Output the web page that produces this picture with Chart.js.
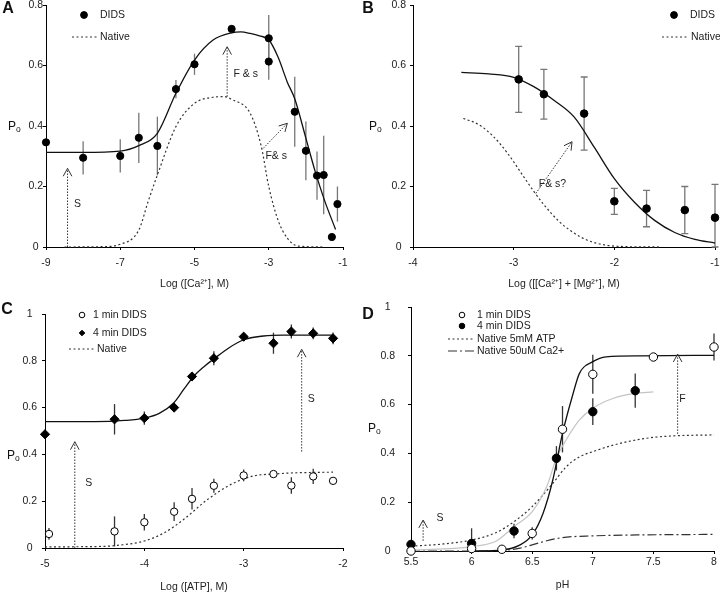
<!DOCTYPE html>
<html>
<head>
<meta charset="utf-8">
<script src="https://cdn.jsdelivr.net/npm/chart.js@4.4.0/dist/chart.umd.min.js"></script>
<style>
  body { margin: 0; background: #fff; }
  #wrap { position: relative; width: 720px; height: 593px; overflow: hidden; }
  canvas { position: absolute; }
</style>
</head>
<body>
<div id="wrap">
  <canvas id="chartA" width="360" height="296" style="left:0;top:0"></canvas>
  <canvas id="chartB" width="360" height="296" style="left:360px;top:0"></canvas>
  <canvas id="chartC" width="360" height="295" style="left:0;top:298px"></canvas>
  <canvas id="chartD" width="360" height="295" style="left:360px;top:298px"></canvas>
</div>
<script>
// ---- panel A: Ca2+ ----
const aXTicks = [-9, -7, -5, -3, -1];
const aYTicks = [0, 0.2, 0.4, 0.6, 0.8];
const aDidsX = [-9, -8, -7, -6.5, -6, -5.5, -5, -4, -3, -3, -2.3, -2, -1.7, -1.52, -1.3, -1.15];
const aDidsY = [0.346, 0.295, 0.301, 0.361, 0.334, 0.522, 0.604, 0.721, 0.690, 0.613, 0.447, 0.318, 0.236, 0.238, 0.033, 0.142];
const aDidsErr = [0, 0.055, 0.055, 0.083, 0.097, 0.03, 0.035, 0, 0.077, 0.06, 0.116, 0.097, 0.08, 0.13, 0, 0.058];
const aFitX = [-9, -8, -7, -6.5, -6, -5.5, -5, -4.5, -4, -3.75, -3.5, -3.25, -3, -2.75, -2.5, -2.3, -2, -1.75, -1.5, -1.2];
const aFitY = [0.313, 0.313, 0.317, 0.335, 0.376, 0.508, 0.618, 0.684, 0.708, 0.711, 0.706, 0.698, 0.685, 0.628, 0.545, 0.49, 0.36, 0.25, 0.155, 0.058];
const aNatX = [-8.5, -7.5, -7, -6.5, -6.25, -6, -5.5, -5, -4.5, -4.2, -4, -3.5, -3.2, -3, -2.75, -2.5, -2.2, -1.5];
const aNatY = [0, 0.001, 0.009, 0.056, 0.15, 0.238, 0.398, 0.475, 0.495, 0.497, 0.488, 0.442, 0.332, 0.2, 0.089, 0.029, 0.003, 0];

// ---- panel B: Ca2+ + Mg2+ ----
const bXTicks = [-4, -3, -2, -1];
const bYTicks = [0, 0.2, 0.4, 0.6, 0.8];
const bDidsX = [-2.95, -2.7, -2.3, -2.0, -1.68, -1.3, -1.0];
const bDidsY = [0.554, 0.505, 0.441, 0.151, 0.127, 0.122, 0.097];
const bDidsErr = [0.109, 0.082, 0.121, 0.043, 0.06, 0.078, 0.11];
const bFitX = [-3.52, -3.25, -3, -2.8, -2.6, -2.4, -2.2, -2.0, -1.8, -1.6, -1.4, -1.2, -1.0];
const bFitY = [0.577, 0.572, 0.561, 0.53, 0.485, 0.43, 0.33, 0.226, 0.148, 0.088, 0.048, 0.025, 0.013];
const bNatX = [-3.5, -3.35, -3.2, -3.05, -2.9, -2.8, -2.7, -2.55, -2.4, -2.25, -2.1, -1.95, -1.55];
const bNatY = [0.425, 0.405, 0.365, 0.305, 0.232, 0.184, 0.14, 0.085, 0.046, 0.02, 0.007, 0.002, 0];

// ---- panel C: ATP ----
const cXTicks = [-5, -4, -3, -2];
const cYTicks = [0, 0.2, 0.4, 0.6, 0.8, 1];
const c1X = [-4.96, -4.3, -4, -3.7, -3.52, -3.3, -3, -2.7, -2.52, -2.3, -2.1];
const c1Y = [0.06, 0.071, 0.11, 0.155, 0.21, 0.266, 0.31, 0.316, 0.267, 0.306, 0.287];
const c1Err = [0.025, 0.064, 0.035, 0.04, 0.046, 0.03, 0.025, 0, 0.035, 0.033, 0];
const c4X = [-5, -4.3, -4, -3.7, -3.52, -3.3, -3, -2.7, -2.52, -2.3, -2.1];
const c4Y = [0.486, 0.55, 0.555, 0.6, 0.733, 0.811, 0.903, 0.875, 0.925, 0.917, 0.896];
const c4Err = [0, 0.065, 0.028, 0, 0, 0.03, 0.015, 0.045, 0.03, 0.025, 0.025];
const cFitX = [-5, -4.5, -4.2, -4, -3.85, -3.7, -3.6, -3.5, -3.4, -3.3, -3.15, -3, -2.8, -2.6, -2.1];
const cFitY = [0.54, 0.54, 0.545, 0.555, 0.575, 0.622, 0.68, 0.735, 0.775, 0.808, 0.855, 0.89, 0.906, 0.91, 0.91];
const cNatX = [-5, -4.5, -4.3, -4, -3.8, -3.61, -3.37, -3.14, -2.9, -2.7, -2.5, -2.3, -2.1];
const cNatY = [0.005, 0.006, 0.01, 0.03, 0.065, 0.12, 0.205, 0.269, 0.308, 0.316, 0.321, 0.323, 0.324];

// ---- panel D: pH ----
const dXTicks = [5.5, 6, 6.5, 7, 7.5, 8];
const dYTicks = [0, 0.2, 0.4, 0.6, 0.8, 1];
const d1X = [5.5, 6.0, 6.25, 6.5, 6.75, 7.0, 7.5, 8.0];
const d1Y = [0.0, 0.01, 0.007, 0.072, 0.499, 0.724, 0.795, 0.836];
const d1Err = [0, 0, 0, 0.025, 0.095, 0.08, 0, 0.055];
const d4X = [5.5, 6.0, 6.35, 6.7, 7.0, 7.35];
const d4Y = [0.027, 0.031, 0.082, 0.38, 0.571, 0.657];
const d4Err = [0, 0.062, 0.03, 0.05, 0.055, 0.07];
const dFitX = [6.0, 6.25, 6.4, 6.5, 6.59, 6.67, 6.75, 6.83, 6.89, 7.0, 7.11, 7.4, 8.0];
const dFitY = [0, 0.004, 0.025, 0.066, 0.155, 0.291, 0.482, 0.632, 0.728, 0.776, 0.796, 0.80, 0.802];
const dGrayX = [5.5, 6.0, 6.2, 6.35, 6.5, 6.62, 6.7, 6.78, 6.89, 7.0, 7.17, 7.35, 7.5];
const dGrayY = [0.003, 0.018, 0.04, 0.1, 0.161, 0.264, 0.38, 0.455, 0.537, 0.585, 0.626, 0.646, 0.652];
const dNat5X = [5.5, 5.75, 6.0, 6.2, 6.35, 6.5, 6.67, 6.78, 6.89, 7.0, 7.17, 7.39, 7.6, 8.0];
const dNat5Y = [0.02, 0.028, 0.045, 0.075, 0.12, 0.182, 0.277, 0.345, 0.386, 0.407, 0.434, 0.458, 0.47, 0.476];
const dNat50X = [5.5, 6.0, 6.25, 6.4, 6.5, 6.62, 6.75, 7.0, 7.4, 8.0];
const dNat50Y = [0, 0, 0.002, 0.012, 0.025, 0.042, 0.055, 0.062, 0.066, 0.068];

const FONT = '"Liberation Sans", Arial, sans-serif';
Chart.defaults.font.family = FONT;
Chart.defaults.font.size = 10.5;
Chart.defaults.color = '#222';

function pts(xs, ys) {
    return xs.map((x, i) => ({ x: x, y: ys[i] }));
}

function dots(label, xs, ys, errs, style) {
    return Object.assign({
        label: label,
        data: pts(xs, ys),
        errors: errs,
        showLine: false,
        pointStyle: 'circle',
        pointRadius: 4,
        backgroundColor: '#000',
        borderColor: '#000',
        borderWidth: 1,
        clip: false
    }, style || {});
}

function curve(label, xs, ys, style) {
    return Object.assign({
        label: label,
        data: pts(xs, ys),
        showLine: true,
        pointRadius: 0,
        borderColor: '#111',
        borderWidth: 1.3,
        cubicInterpolationMode: 'monotone',
        fill: false,
        clip: false
    }, style || {});
}

const DOTTED = { borderColor: '#333', borderWidth: 1.2, borderDash: [2, 2.5] };

// per-canvas annotation setup (legend, arrows, labels)
const panels = {};

function marker(ctx, ds, x, y, r) {
    ctx.save();
    ctx.fillStyle = ds.backgroundColor;
    ctx.strokeStyle = ds.borderColor;
    ctx.lineWidth = ds.borderWidth;
    ctx.beginPath();
    if (ds.pointStyle === 'rectRot') {
        ctx.moveTo(x, y - r); ctx.lineTo(x + r, y); ctx.lineTo(x, y + r); ctx.lineTo(x - r, y); ctx.closePath();
    } else {
        ctx.arc(x, y, r, 0, Math.PI * 2);
    }
    ctx.fill();
    ctx.stroke();
    ctx.restore();
}

function arrow(ctx, x1, y1, x2, y2) {
    ctx.save();
    ctx.strokeStyle = '#333';
    ctx.lineWidth = 1;
    ctx.setLineDash([1.5, 1.5]);
    ctx.beginPath(); ctx.moveTo(x1, y1); ctx.lineTo(x2, y2); ctx.stroke();
    ctx.setLineDash([]);
    const a = Math.atan2(y2 - y1, x2 - x1), L = 9, W = 0.5;
    ctx.beginPath();
    ctx.moveTo(x2 - L * Math.cos(a - W), y2 - L * Math.sin(a - W));
    ctx.lineTo(x2, y2);
    ctx.lineTo(x2 - L * Math.cos(a + W), y2 - L * Math.sin(a + W));
    ctx.stroke();
    ctx.restore();
}

const extrasPlugin = {
    id: 'extras',
    beforeDatasetsDraw(chart) {
        const ex = panels[chart.canvas.id];
        const ctx = chart.ctx, sx = chart.scales.x, sy = chart.scales.y;
        ctx.save();
        ctx.strokeStyle = ex.errColor;
        ctx.lineWidth = 1.3;
        chart.data.datasets.forEach(ds => {
            if (!ds.errors) return;
            ds.data.forEach((p, i) => {
                const e = ds.errors[i];
                if (!e) return;
                const px = sx.getPixelForValue(p.x);
                const top = sy.getPixelForValue(p.y + e);
                const bot = sy.getPixelForValue(Math.max(0, p.y - e));
                ctx.beginPath();
                ctx.moveTo(px, top); ctx.lineTo(px, bot);
                if (ex.cap) {
                    ctx.moveTo(px - ex.cap, top); ctx.lineTo(px + ex.cap, top);
                    ctx.moveTo(px - ex.cap, bot); ctx.lineTo(px + ex.cap, bot);
                }
                ctx.stroke();
            });
        });
        ctx.restore();
    },
    afterDraw(chart) {
        const ex = panels[chart.canvas.id];
        const ctx = chart.ctx, sx = chart.scales.x, sy = chart.scales.y;
        ex.arrows.forEach(a => arrow(ctx,
            sx.getPixelForValue(a[0]), sy.getPixelForValue(a[1]),
            sx.getPixelForValue(a[2]), sy.getPixelForValue(a[3])));
        ctx.save();
        ctx.fillStyle = '#222';
        ctx.font = '10.5px ' + FONT;
        ctx.textAlign = 'center';
        ctx.textBaseline = 'middle';
        ex.notes.forEach(n => ctx.fillText(n[0], sx.getPixelForValue(n[1]), sy.getPixelForValue(n[2])));

        // legend
        ctx.textAlign = 'left';
        ex.legend.forEach(r => {
            const ds = chart.data.datasets[r.i];
            if (r.l1 !== undefined) {
                ctx.save();
                ctx.strokeStyle = ds.borderColor;
                ctx.lineWidth = ds.borderWidth;
                ctx.setLineDash(ds.borderDash || []);
                ctx.beginPath(); ctx.moveTo(r.l1, r.y); ctx.lineTo(r.l2, r.y); ctx.stroke();
                ctx.restore();
            } else {
                marker(ctx, ds, r.mx, r.y, ex.legendR);
            }
            ctx.fillStyle = '#222';
            ctx.fillText(ds.label, r.tx, r.y);
        });

        // panel letter
        ctx.font = 'bold 16px ' + FONT;
        ctx.textAlign = 'center';
        ctx.fillStyle = '#111';
        ctx.fillText(ex.letter[0], ex.letter[1], ex.letter[2]);

        // y title P with subscript o
        ctx.textAlign = 'left';
        ctx.textBaseline = 'alphabetic';
        ctx.font = '12px ' + FONT;
        ctx.fillText('P', ex.po[0], ex.po[1]);
        ctx.font = '8.5px ' + FONT;
        ctx.fillText('o', ex.po[0] + 8, ex.po[1] + 2);
        ctx.restore();
    }
};

function axes(g) {
    return {
        x: {
            type: 'linear', min: g.xMin, max: g.xMax,
            afterBuildTicks: s => { s.ticks = g.xTicks.map(v => ({ value: v })); },
            afterFit: s => { s.height = g.xh; s.paddingLeft = 0; s.paddingRight = 0; },
            ticks: { padding: g.xPad, maxRotation: 0, autoSkip: false, color: '#222', callback: v => String(v) },
            grid: { drawOnChartArea: false, color: '#000', tickLength: 3, lineWidth: 1 },
            border: { color: '#000', width: 1 },
            title: { display: true, text: g.xTitle, color: '#222', padding: { top: 0, bottom: g.titlePad } }
        },
        y: {
            type: 'linear', min: g.yMin, max: g.yMax,
            afterBuildTicks: s => { s.ticks = g.yTicks.map(v => ({ value: v })); },
            afterFit: s => { s.width = g.yw; s.paddingTop = 0; s.paddingBottom = 0; },
            ticks: { padding: g.yPad, crossAlign: 'center', color: '#222', autoSkip: false, callback: v => String(v) },
            grid: { drawOnChartArea: false, color: '#000', tickLength: 3, lineWidth: 1 },
            border: { color: '#000', width: 1 }
        }
    };
}

function makeChart(id, g, datasets) {
    new Chart(document.getElementById(id).getContext('2d'), {
        type: 'scatter',
        data: { datasets: datasets },
        options: {
            responsive: false,
            devicePixelRatio: 1,
            animation: false,
            events: [],
            layout: { padding: { left: 0, top: g.top, right: g.right, bottom: 0 } },
            plugins: { legend: { display: false }, tooltip: { enabled: false } },
            scales: axes(g)
        },
        plugins: [extrasPlugin]
    });
}

// ---- A ----
panels.chartA = {
    errColor: '#777', cap: 0, legendR: 3.4,
    letter: ['A', 8, 9], po: [8, 130],
    legend: [{ i: 0, y: 15, mx: 84, tx: 100 }, { i: 2, y: 37, l1: 72, l2: 98, tx: 100 }],
    arrows: [[-8.42, 0, -8.42, 0.26], [-4.12, 0.497, -4.12, 0.662], [-3.15, 0.326, -2.5, 0.409]],
    notes: [['S', -8.15, 0.142], ['F & s', -3.62, 0.572], ['F& s', -2.8, 0.299]]
};
makeChart('chartA', {
    xMin: -9, xMax: -1, yMin: 0, yMax: 0.8, xTicks: aXTicks, yTicks: aYTicks,
    yw: 46, xh: 49, top: 5, right: 17, xPad: 7, yPad: 0, titlePad: 6, xTitle: 'Log ([Ca²⁺], M)'
}, [
    dots('DIDS', aDidsX, aDidsY, aDidsErr, { pointRadius: 3.6 }),
    curve('DIDS fit', aFitX, aFitY),
    curve('Native', aNatX, aNatY, DOTTED)
]);

// ---- B ----
panels.chartB = {
    errColor: '#777', cap: 3.5, legendR: 3.4,
    letter: ['B', 8, 9], po: [9, 130],
    legend: [{ i: 0, y: 15, mx: 314, tx: 330 }, { i: 2, y: 37, l1: 302, l2: 328, tx: 331 }],
    arrows: [[-2.78, 0.177, -2.42, 0.348]],
    notes: [['F& s?', -2.615, 0.208]]
};
makeChart('chartB', {
    xMin: -4, xMax: -1, yMin: 0, yMax: 0.8, xTicks: bXTicks, yTicks: bYTicks,
    yw: 53, xh: 49, top: 5, right: 3, xPad: 7, yPad: 4, titlePad: 6, xTitle: 'Log ([[Ca²⁺] + [Mg²⁺], M)'
}, [
    dots('DIDS', bDidsX, bDidsY, bDidsErr, { pointRadius: 3.8 }),
    curve('DIDS fit', bFitX, bFitY),
    curve('Native', bNatX, bNatY, DOTTED)
]);

// ---- C ----
panels.chartC = {
    errColor: '#333', cap: 0, legendR: 2.8,
    letter: ['C', 7, 12], po: [7, 161],
    legend: [{ i: 0, y: 17, mx: 82, tx: 93 }, { i: 1, y: 35, mx: 82, tx: 93 }, { i: 3, y: 51, l1: 69, l2: 96, tx: 97 }],
    arrows: [[-4.7, 0, -4.7, 0.454], [-2.416, 0.412, -2.416, 0.849]],
    notes: [['S', -4.56, 0.279], ['S', -2.32, 0.635]]
};
makeChart('chartC', {
    xMin: -5, xMax: -2, yMin: 0, yMax: 1, xTicks: cXTicks, yTicks: cYTicks,
    yw: 45, xh: 45, top: 16, right: 17, xPad: 7, yPad: 5, titlePad: 0, xTitle: 'Log ([ATP], M)'
}, [
    dots('1 min DIDS', c1X, c1Y, c1Err, { backgroundColor: '#fff', pointRadius: 3.7 }),
    dots('4 min DIDS', c4X, c4Y, c4Err, { pointStyle: 'rectRot', pointRadius: 4.6 }),
    curve('4 min fit', cFitX, cFitY),
    curve('Native', cNatX, cNatY, DOTTED)
]);

// ---- D ----
panels.chartD = {
    errColor: '#333', cap: 0, legendR: 2.8,
    letter: ['D', 8, 17], po: [8, 134],
    legend: [
        { i: 0, y: 17, mx: 102, tx: 117 }, { i: 1, y: 28, mx: 102, tx: 117 },
        { i: 4, y: 41, l1: 88, l2: 115, tx: 117 }, { i: 5, y: 53, l1: 88, l2: 115, tx: 117 }
    ],
    arrows: [[5.6, 0.042, 5.6, 0.127], [7.7, 0.48, 7.7, 0.807]],
    notes: [['S', 5.74, 0.134], ['F', 7.74, 0.623]]
};
makeChart('chartD', {
    xMin: 5.5, xMax: 8, yMin: 0, yMax: 1, xTicks: dXTicks, yTicks: dYTicks,
    yw: 51, xh: 42, top: 9, right: 6, xPad: 2, yPad: 13, titlePad: 2, xTitle: 'pH'
}, [
    dots('1 min DIDS', d1X, d1Y, d1Err, { backgroundColor: '#fff', pointRadius: 4.2 }),
    dots('4 min DIDS', d4X, d4Y, d4Err, { pointRadius: 4.2 }),
    curve('1 min fit', dFitX, dFitY),
    curve('4 min fit', dGrayX, dGrayY, { borderColor: '#c4c4c4', borderWidth: 1.2 }),
    curve('Native 5mM ATP', dNat5X, dNat5Y, DOTTED),
    curve('Native 50uM Ca2+', dNat50X, dNat50Y, { borderColor: '#333', borderWidth: 1.2, borderDash: [9, 3, 2, 3] })
]);
</script>
</body>
</html>
